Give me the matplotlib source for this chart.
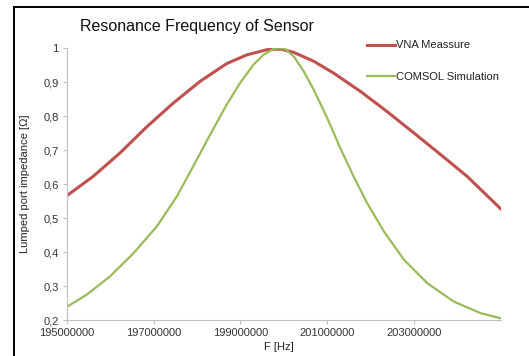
import matplotlib.pyplot as plt
from matplotlib.patches import Rectangle

plt.rcParams['font.family'] = ['Liberation Sans', 'DejaVu Sans']

# frequency (MHz) and normalised impedance
vna_f = [195.0, 195.60, 196.22, 196.83, 197.45, 198.07, 198.68, 199.15, 199.61,
         199.92, 200.23, 200.69, 201.15, 201.77, 202.38, 203.00, 203.62, 204.23,
         205.0]
vna_z = [0.566, 0.622, 0.691, 0.767, 0.838, 0.902, 0.954, 0.980, 0.995,
         0.997, 0.987, 0.961, 0.926, 0.872, 0.813, 0.750, 0.686, 0.622,
         0.527]

sim_f = [195.0, 195.45, 195.99, 196.53, 197.07, 197.53, 197.91, 198.30, 198.68,
         198.99, 199.30, 199.53, 199.76, 199.88, 200.03, 200.23, 200.46, 200.69,
         201.00, 201.30, 201.61, 201.92, 202.31, 202.77, 203.31, 203.92, 204.54,
         205.0]
sim_z = [0.239, 0.274, 0.328, 0.396, 0.475, 0.563, 0.652, 0.745, 0.833,
         0.897, 0.951, 0.980, 0.997, 1.000, 0.997, 0.975, 0.931, 0.877,
         0.794, 0.706, 0.622, 0.544, 0.460, 0.377, 0.308, 0.254, 0.220,
         0.205]

xticks = [195000000, 197000000, 199000000, 201000000, 203000000]
yticks = [0.2, 0.3, 0.4, 0.5, 0.6, 0.7, 0.8, 0.9, 1.0]
ylabels = ['0,2', '0,3', '0,4', '0,5', '0,6', '0,7', '0,8', '0,9', '1']

fig = plt.figure(figsize=(5.29, 3.56), dpi=100)
ax = fig.add_axes([67 / 529, 36 / 356, 433.7 / 529, 272 / 356])

ax.plot([f * 1e6 for f in vna_f], vna_z, color='#C0504D', lw=2.2,
        solid_joinstyle='round', label='VNA Meassure')
ax.plot([f * 1e6 for f in sim_f], sim_z, color='#9BBB59', lw=1.6,
        solid_joinstyle='round', label='COMSOL Simulation')

ax.set_xlim(195e6, 205e6)
ax.set_ylim(0.2, 1.0)
ax.set_xticks(xticks)
ax.set_xticklabels([str(t) for t in xticks])
ax.set_yticks(yticks)
ax.set_yticklabels(ylabels)

for s in ['top', 'right']:
    ax.spines[s].set_visible(False)
for s in ['left', 'bottom']:
    ax.spines[s].set_color('#BFBFBF')
ax.tick_params(colors='#BFBFBF', labelcolor='#333333', labelsize=8, length=3, pad=3)

ax.set_ylabel('Lumped port impedance [Ω]', fontsize=8, color='#222222')
ax.yaxis.set_label_coords(-0.085, 0.5)
ax.set_xlabel('F [Hz]', fontsize=8, color='#222222')
ax.xaxis.set_label_coords(0.488, -0.082)

fig.text(80 / 529, 1 - 27 / 356, 'Resonance Frequency of Sensor', fontsize=11.5,
         va='center', ha='left', color='#111111')

leg = fig.legend(loc='upper left', bbox_to_anchor=(363 / 529, 1 - 36 / 356),
                 frameon=False, fontsize=8, handlelength=2.5, handletextpad=0.1,
                 labelspacing=1.9, borderaxespad=0)
for t in leg.get_texts():
    t.set_color('#222222')

fig.patches.append(Rectangle((14 / 529, -0.1), 1.2, 1 - 7 / 356 + 0.1,
                             transform=fig.transFigure, fill=False,
                             edgecolor='black', lw=1.4))

fig.savefig('out.png', dpi=100)
